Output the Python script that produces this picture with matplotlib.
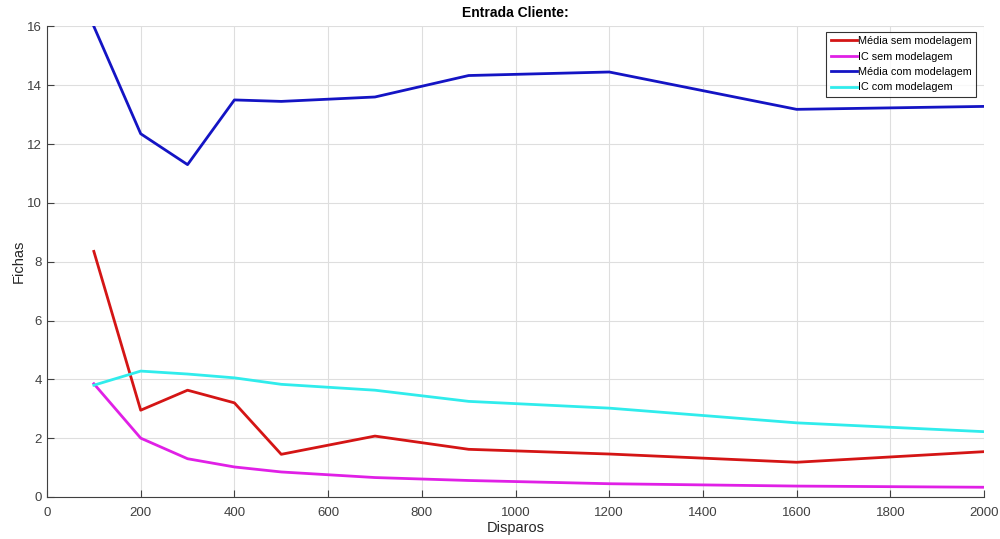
import matplotlib
matplotlib.use("Agg")
import matplotlib.pyplot as plt

# Data
disparos = [100, 200, 300, 400, 500, 700, 900, 1200, 1600, 2000]
media_sem = [8.35, 2.95, 3.63, 3.2, 1.45, 2.07, 1.62, 1.46, 1.18, 1.54]
ic_sem = [3.85, 2.0, 1.3, 1.02, 0.85, 0.66, 0.56, 0.45, 0.37, 0.33]
media_com = [16.0, 12.35, 11.3, 13.5, 13.45, 13.6, 14.33, 14.45, 13.18, 13.28]
ic_com = [3.8, 4.28, 4.18, 4.05, 3.83, 3.63, 3.25, 3.02, 2.52, 2.22]

plt.rcParams["font.family"] = ["Liberation Sans", "DejaVu Sans"]

fig = plt.figure(figsize=(10, 5.39), dpi=100)
ax = fig.add_axes([0.047, 0.078, 0.937, 0.873])

ax.plot(disparos, media_sem, color="#d41515", linewidth=2, label="Média sem modelagem")
ax.plot(disparos, ic_sem, color="#e020e6", linewidth=2, label="IC sem modelagem")
ax.plot(disparos, media_com, color="#1414c4", linewidth=2, label="Média com modelagem")
ax.plot(disparos, ic_com, color="#30ecec", linewidth=2, label="IC com modelagem")

ax.set_xlim(0, 2000)
ax.set_ylim(0, 16)
ax.set_xticks(range(0, 2001, 200))
ax.set_yticks(range(0, 17, 2))
ax.grid(True, color="#dedede", linewidth=0.8)
ax.set_axisbelow(True)

for side in ["top", "right"]:
    ax.spines[side].set_visible(False)
for side in ["left", "bottom"]:
    ax.spines[side].set_color("#404040")
ax.tick_params(direction="in", length=5, colors="#404040", labelsize=9.5)
ax.tick_params(axis="x", pad=7)

ax.set_title("Entrada Cliente:", fontsize=10, fontweight="bold", pad=7)
ax.set_xlabel("Disparos", fontsize=10.5, color="#262626", labelpad=2)
ax.set_ylabel("Fichas", fontsize=10.5, color="#262626", labelpad=1)

leg = ax.legend(loc="upper right", fontsize=7.8, frameon=True, fancybox=False,
                handlelength=2.4, handletextpad=0.1, borderpad=0.4, labelspacing=0.5,
                borderaxespad=0.5, bbox_to_anchor=(0.997, 1.0))
leg.get_frame().set_edgecolor("black")
leg.get_frame().set_linewidth(0.8)

fig.savefig("out.png", dpi=100)
